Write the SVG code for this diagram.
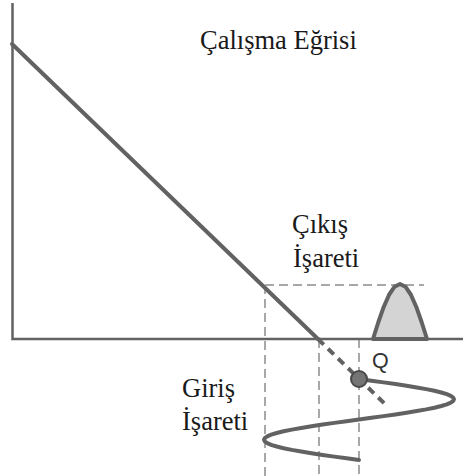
<svg xmlns="http://www.w3.org/2000/svg" width="463" height="476" viewBox="0 0 463 476">
<style>
.axis{stroke:#626262;stroke-width:2.5;fill:none}
.curve{stroke:#626262;stroke-width:4;fill:none;stroke-linejoin:round;stroke-linecap:round}
.guide{stroke:#a8a8a8;stroke-width:2;fill:none;stroke-dasharray:9 5}
.lbl{font-family:"Liberation Serif","Times New Roman",serif;font-size:26.5px;fill:#1a1a1a}
.q{font-family:"Liberation Sans",Arial,sans-serif;font-size:21.5px;fill:#333}
</style>
<rect width="463" height="476" fill="#fff"/>
<g id="connectors">
<path class="guide" d="M265 285H424M265 285V476M319 339V476M359 339V476"/>
<path class="axis" d="M12.5 3V339H463"/>
<path class="curve" d="M12 44L318 339"/>
<path d="M318 339L385 404" stroke="#626262" stroke-width="4" stroke-dasharray="8 6" fill="none"/>
</g>
<g id="output-signal">
<path d="M373 339L378.4 322L383.8 306.7L389.2 294.5L394.6 286.7L400 284L405.4 286.7L410.8 294.5L416.2 306.7L421.6 322L427 339Z" fill="#d4d4d4" stroke="#626262" stroke-width="4" stroke-linejoin="round"/>
</g>
<g id="input-signal">
<polyline class="curve" points="359,379 371.4,380.69 383.6,382.38 395.4,384.06 406.5,385.75 416.8,387.44 426.2,389.13 434.4,390.81 441.3,392.5 446.8,394.19 450.8,395.88 453.2,397.56 454,399.25 453.2,400.94 450.8,402.63 446.8,404.31 441.3,406 434.4,407.69 426.2,409.38 416.8,411.06 406.5,412.75 395.4,414.44 383.6,416.13 371.4,417.81 359,419.5 346.6,421.19 334.4,422.88 322.6,424.56 311.5,426.25 301.2,427.94 291.8,429.63 283.6,431.31 276.7,433 271.2,434.69 267.2,436.38 264.8,438.06 264,439.75 264.8,441.44 267.2,443.13 271.2,444.81 276.7,446.5 283.6,448.19 291.8,449.88 301.2,451.56 311.5,453.25 322.6,454.94 334.4,456.63 346.6,458.31 359,460"/>
</g>
<g id="Q">
<circle cx="359" cy="379" r="8" fill="#757575" stroke="#4a4a4a" stroke-width="2"/>
<text class="q" x="372" y="368">Q</text>
</g>
<g id="title">
<text class="lbl" x="200" y="49">Çalışma Eğrisi</text>
</g>
<g id="output-label">
<text class="lbl" x="292" y="233">Çıkış</text>
<text class="lbl" x="293" y="267">İşareti</text>
</g>
<g id="input-label">
<text class="lbl" x="182" y="397">Giriş</text>
<text class="lbl" x="182" y="430">İşareti</text>
</g>
</svg>
